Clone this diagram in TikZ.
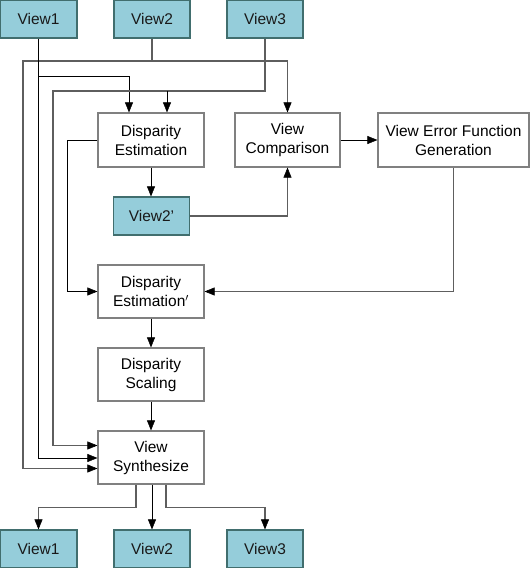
\documentclass[tikz,border=0pt]{standalone}
\usepackage{fontspec}
\setmainfont{Liberation Sans}
\usetikzlibrary{arrows.meta}
\definecolor{tealfill}{HTML}{95CDDA}
\definecolor{tealline}{HTML}{416E6E}
\definecolor{boxline}{HTML}{808080}
\definecolor{greyline}{HTML}{5E5E5E}
\tikzset{
  viewbox/.style={draw=tealline, line width=1.2pt, fill=tealfill, minimum width=76pt, minimum height=38pt, inner sep=0pt, font=\fontsize{15.5}{19}\selectfont, text=black!90},
  procbox/.style={draw=boxline, line width=1.2pt, fill=white, minimum width=106pt, minimum height=54pt, inner sep=0pt, align=center, font=\fontsize{15.5}{19}\selectfont},
  conn/.style={line width=1pt, -{Triangle[length=10pt,width=8pt,color=black,line width=0.5pt]}},
  grey/.style={draw=greyline, line width=1.4pt}
}
\begin{document}
\begin{tikzpicture}[x=1pt,y=-1pt]
\useasboundingbox (0,0) rectangle (530,568);
% nodes
\node[viewbox, minimum width=77pt] (v1) at (38.5,19) {View1};
\node[viewbox] (v2) at (152,19) {View2};
\node[viewbox] (v3) at (265,19) {View3};
\node[procbox] (de) at (151,140) {Disparity\\Estimation};
\node[procbox, minimum width=105pt] (vc) at (287.5,140) {View\\Comparison};
\node[procbox, minimum width=151pt] (vefg) at (453.5,140) {View Error Function\\Generation};
\node[viewbox] (v2p) at (151.5,216) {View2'};
\node[procbox, minimum height=53pt] (dep) at (151,291.5) {Disparity\\Estimation$^{\prime}$};
\node[procbox, minimum height=53pt] (ds) at (151,374.5) {Disparity\\Scaling};
\node[procbox, minimum height=53pt] (vs) at (151,457.5) {View\\Synthesize};
\node[viewbox, minimum width=77pt] (b1) at (38.5,549) {View1};
\node[viewbox] (b2) at (152,549) {View2};
\node[viewbox] (b3) at (265,549) {View3};
% junction coordinates
\coordinate (j2) at (23,61);
\coordinate (j1) at (38.5,76);
\coordinate (j3) at (53,91);
% View2 feed
\draw[conn, grey] (v2.south) |- (j2) |- ([yshift=-11pt]vs.west);
\draw[conn, grey] (v2.south) |- (vc.north |- j2) -- (vc.north);
% View1 feed
\draw[conn] (v1.south) |- ([yshift=-0.5pt]vs.west);
\draw[conn] (j1) -| ([xshift=-22pt]de.north);
% View3 feed
\draw[conn, grey] (v3.south) |- (j3) |- ([yshift=12pt]vs.west);
\draw[conn] ([xshift=16pt]de.north |- j3) -- ([xshift=16pt]de.north);
% middle flow
\draw[conn] (de.south) -- (de.south |- v2p.north);
\draw[conn, grey] (v2p.east) -| (vc.south);
\draw[conn] (vc.east) -- (vefg.west);
\draw[conn, grey] (vefg.south) |- (dep.east);
\draw[conn] (de.west) -- ++(-30,0) |- (dep.west);
\draw[conn] (dep.south) -- (ds.north);
\draw[conn] (ds.south) -- (vs.north);
% outputs
\draw[conn, grey] ([xshift=-15pt]vs.south) -- ++(0,23) -| (b1.north);
\draw[conn] (vs.south -| b2.north) -- (b2.north);
\draw[conn, grey] ([xshift=15pt]vs.south) -- ++(0,23) -| (b3.north);
\end{tikzpicture}
\end{document}
